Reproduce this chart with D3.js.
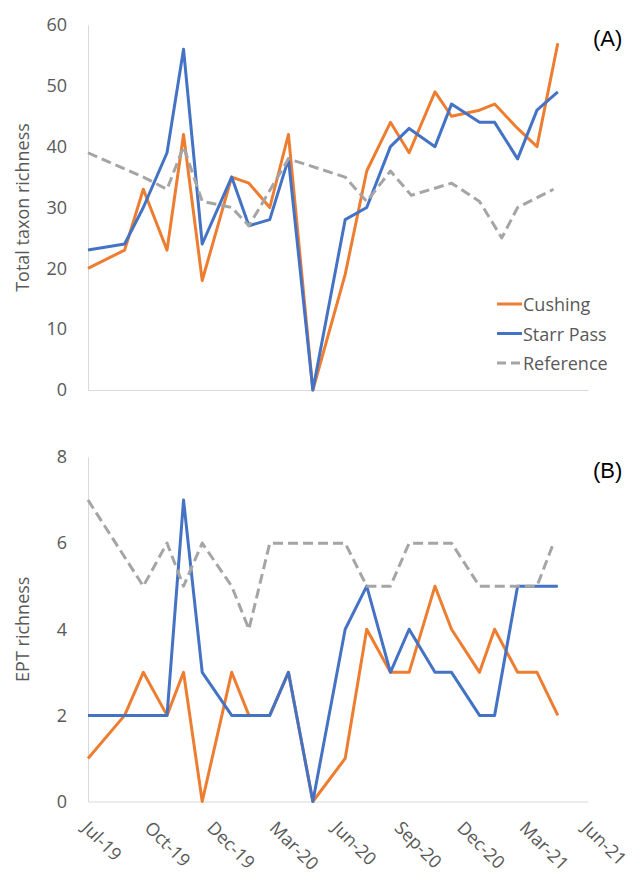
<!DOCTYPE html>
<html>
<head>
<meta charset="utf-8">
<script src="https://cdn.jsdelivr.net/npm/d3@7"></script>
<style>
  body { margin: 0; background: #fff; }
  text { font-family: "Open Sans", sans-serif; }
</style>
</head>
<body>
<div id="chart"></div>
<script>
// sampling dates of the two urban sites (Cushing, Starr Pass)
const siteDates = ['2019-07-08', '2019-08-28', '2019-09-23', '2019-10-26', '2019-11-18', '2019-12-14',
  '2020-01-24', '2020-02-17', '2020-03-17', '2020-04-12', '2020-05-16', '2020-06-30', '2020-07-30',
  '2020-09-01', '2020-09-27', '2020-11-02', '2020-11-25', '2021-01-03', '2021-01-24', '2021-02-25',
  '2021-03-24', '2021-04-22'];

const cushingTotal = [20, 23, 33, 23, 42, 18, 35, 34, 30, 42, 0, 19, 36, 44, 39, 49, 45, 46, 47, 43, 40, 57];
const starrTotal = [23, 24, 30, 39, 56, 24, 35, 27, 28, 38, 0, 28, 30, 40, 43, 40, 47, 44, 44, 38, 46, 49];
const cushingEpt = [1, 2, 3, 2, 3, 0, 3, 2, 2, 3, 0, 1, 4, 3, 3, 5, 4, 3, 4, 3, 3, 2];
const starrEpt = [2, 2, 2, 2, 7, 3, 2, 2, 2, 3, 0, 4, 5, 3, 4, 3, 3, 2, 2, 5, 5, 5];

// reference site (values readable at these dates)
const refTotalDates = ['2019-07-08', '2019-09-23', '2019-10-26', '2019-11-18', '2019-12-14', '2020-01-24',
  '2020-02-17', '2020-04-12', '2020-06-30', '2020-07-30', '2020-09-01', '2020-09-30', '2020-11-25',
  '2021-01-03', '2021-02-03', '2021-02-25', '2021-04-16'];
const refTotal = [39, 35, 33, 40, 31, 30, 27, 38, 35, 31, 36, 32, 34, 31, 25, 30, 33];

const refEptDates = ['2019-07-08', '2019-09-23', '2019-10-26', '2019-11-18', '2019-12-14', '2020-01-24',
  '2020-02-17', '2020-03-17', '2020-06-30', '2020-07-30', '2020-09-01', '2020-09-27', '2020-11-25',
  '2021-01-03', '2021-03-24', '2021-04-16'];
const refEpt = [7, 5, 6, 5, 6, 5, 4, 6, 6, 5, 5, 6, 6, 5, 5, 6];

const xTickDates = ['2019-07-08', '2019-10-03', '2019-12-29', '2020-03-25', '2020-06-20',
  '2020-09-15', '2020-12-11', '2021-03-08', '2021-06-03'];
const totalTicks = [0, 10, 20, 30, 40, 50, 60];
const eptTicks = [0, 2, 4, 6, 8];

const seriesNames = ['Cushing', 'Starr Pass', 'Reference'];
const colors = { 'Cushing': '#ed7d31', 'Starr Pass': '#4472c4', 'Reference': '#a5a5a5' };

const parse = d3.timeParse('%Y-%m-%d');
const fmt = d3.timeFormat('%b-%y');

const width = 640, height = 882;
const svg = d3.select('#chart').append('svg')
  .attr('width', width)
  .attr('height', height);

const x = d3.scaleTime()
  .domain([parse(xTickDates[0]), parse(xTickDates[xTickDates.length - 1])])
  .range([88, 588]);

const yTop = d3.scaleLinear().domain([0, 60]).range([390, 25]);
const yBot = d3.scaleLinear().domain([0, 8]).range([801.5, 457]);

function zip(dates, vals) {
  return dates.map((d, i) => ({ date: parse(d), v: vals[i] }));
}

function panel(y, ticks, series, title, tag, showLabels) {
  const g = svg.append('g');

  const yAxis = d3.axisLeft(y).tickValues(ticks).tickSize(0).tickPadding(21);
  g.append('g')
    .attr('transform', 'translate(88,0)')
    .call(yAxis)
    .call(a => a.select('.domain').attr('stroke', '#d9d9d9').attr('stroke-width', 1))
    .call(a => a.selectAll('text').attr('fill', '#595959').style('font-size', '18px'));

  const xAxis = d3.axisBottom(x)
    .tickValues(xTickDates.map(parse))
    .tickSize(0)
    .tickFormat(showLabels ? fmt : () => '');
  const xa = g.append('g')
    .attr('transform', `translate(0,${y(0)})`)
    .call(xAxis)
    .call(a => a.select('.domain').attr('stroke', '#d9d9d9').attr('stroke-width', 1));
  xa.selectAll('text')
    .attr('fill', '#595959')
    .style('font-size', '18px')
    .attr('text-anchor', 'start')
    .attr('x', 0).attr('y', 0).attr('dy', '0.35em')
    .attr('transform', 'translate(-3,23) rotate(45)');

  const line = d3.line().x(d => x(d.date)).y(d => y(d.v));

  series.forEach(s => {
    g.append('path')
      .datum(s.data)
      .attr('fill', 'none')
      .attr('stroke', colors[s.name])
      .attr('stroke-width', 3)
      .attr('stroke-linejoin', 'round')
      .attr('stroke-dasharray', s.name === 'Reference' ? '10,5' : null)
      .attr('d', line);
  });

  const yMid = (y.range()[0] + y.range()[1]) / 2;
  g.append('text')
    .attr('transform', `translate(22,${yMid}) rotate(-90)`)
    .attr('text-anchor', 'middle')
    .attr('dominant-baseline', 'central')
    .attr('fill', '#595959')
    .style('font-size', '18px')
    .text(title);

  g.append('text')
    .attr('x', 593)
    .attr('y', y.range()[1] + 13)
    .attr('dominant-baseline', 'central')
    .style('font-family', '"Liberation Sans", Arial, sans-serif')
    .style('font-size', '22px')
    .attr('fill', '#000')
    .text(tag);
}

panel(yTop, totalTicks, [
  { name: 'Cushing', data: zip(siteDates, cushingTotal) },
  { name: 'Starr Pass', data: zip(siteDates, starrTotal) },
  { name: 'Reference', data: zip(refTotalDates, refTotal) }
], 'Total taxon richness', '(A)', false);

panel(yBot, eptTicks, [
  { name: 'Cushing', data: zip(siteDates, cushingEpt) },
  { name: 'Starr Pass', data: zip(siteDates, starrEpt) },
  { name: 'Reference', data: zip(refEptDates, refEpt) }
], 'EPT richness', '(B)', true);

// legend (top panel)
const legend = svg.append('g').attr('transform', 'translate(497,304)');
seriesNames.forEach((name, i) => {
  const row = legend.append('g').attr('transform', `translate(0,${i * 29.5})`);
  row.append('line')
    .attr('x1', 0).attr('x2', 25)
    .attr('stroke', colors[name])
    .attr('stroke-width', 3)
    .attr('stroke-dasharray', name === 'Reference' ? '9,5' : null);
  row.append('text')
    .attr('x', 26)
    .attr('dominant-baseline', 'central')
    .attr('fill', '#595959')
    .style('font-size', '18px')
    .text(name);
});
</script>
</body>
</html>
